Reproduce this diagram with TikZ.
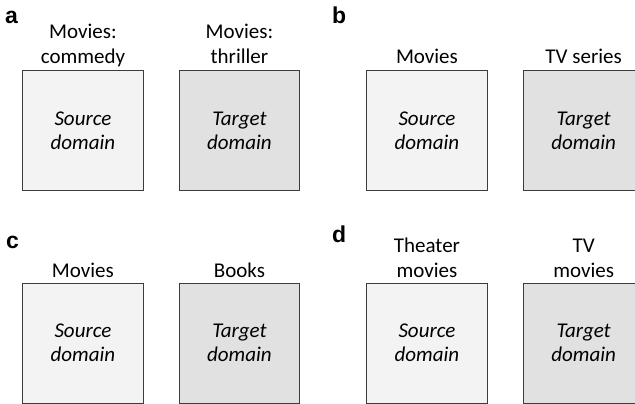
\documentclass[tikz,border=0pt]{standalone}
\usepackage{fontspec}
\setmainfont{Carlito}
\newfontfamily\panelfont{Liberation Sans}
\definecolor{srcfill}{HTML}{F3F3F3}
\definecolor{tgtfill}{HTML}{E1E1E1}
\definecolor{edge}{HTML}{3C3C3C}
\tikzset{
  dombox/.style={draw=edge, line width=1.2pt, minimum width=120.7pt, minimum height=120pt,
    inner sep=0pt, anchor=north west, align=center, font=\itshape\fontsize{21}{24}\selectfont},
  srcbox/.style={dombox, fill=srcfill},
  tgtbox/.style={dombox, fill=tgtfill},
  toplabel/.style={anchor=base, inner sep=0pt, align=center, font=\fontsize{21}{25}\selectfont},
  panel/.style={anchor=base west, inner sep=0pt, font=\panelfont\bfseries\fontsize{23}{26}\selectfont}
}
\begin{document}
\begin{tikzpicture}[x=1pt,y=-1pt]
\useasboundingbox (0,0) rectangle (635,404);
% panel letters
\node[panel] (pa) at (5,24) {a};
\node[panel] (pb) at (332,24) {b};
\node[panel] (pc) at (6,248) {c};
\node[panel] (pd) at (332,242) {d};
% boxes
\node[srcbox] (a1) at (22,70) {Source\\domain};
\node[tgtbox] (a2) at (178.5,70) {Target\\domain};
\node[srcbox] (b1) at (366,70) {Source\\domain};
\node[tgtbox] (b2) at (522.7,70) {Target\\domain};
\node[srcbox] (c1) at (22,282.5) {Source\\domain};
\node[tgtbox] (c2) at (178.5,282.5) {Target\\domain};
\node[srcbox] (d1) at (366,282.5) {Source\\domain};
\node[tgtbox] (d2) at (522.7,282.5) {Target\\domain};
% labels
\node[toplabel] (la1) at ([yshift=6.5pt]a1.north) {Movies:\\commedy};
\node[toplabel] (la2) at ([yshift=6.5pt]a2.north) {Movies:\\thriller};
\node[toplabel] (lb1) at ([yshift=6.5pt]b1.north) {Movies};
\node[toplabel] (lb2) at ([yshift=6.5pt]b2.north) {TV series};
\node[toplabel] (lc1) at ([yshift=5pt]c1.north) {Movies};
\node[toplabel] (lc2) at ([yshift=5pt]c2.north) {Books};
\node[toplabel] (ld1) at ([yshift=5pt]d1.north) {Theater\\movies};
\node[toplabel] (ld2) at ([yshift=5pt]d2.north) {TV\\movies};
\end{tikzpicture}
\end{document}
